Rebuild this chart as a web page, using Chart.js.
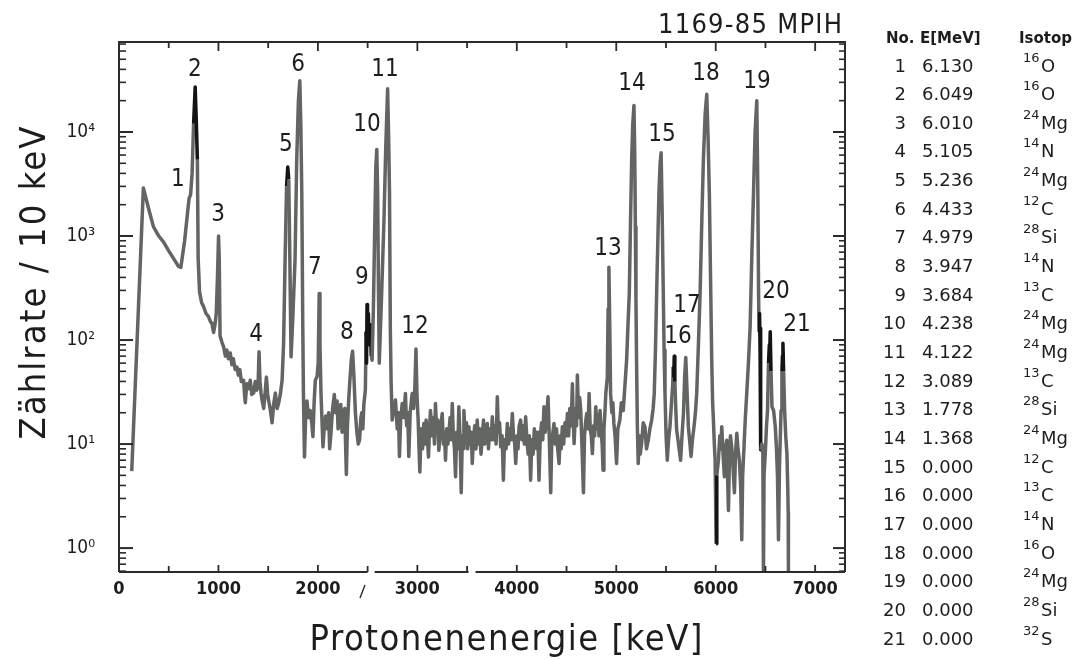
<!DOCTYPE html>
<html>
<head>
<meta charset="utf-8">
<title>Protonenspektrum 1169-85</title>
<script src="https://cdn.jsdelivr.net/npm/chart.js@4.4.1/dist/chart.umd.min.js"></script>
<style>
    html, body { margin: 0; padding: 0; background: #fff; }
    #spectrum { display: block; }
</style>
</head>
<body>
<canvas id="spectrum" width="1084" height="660"></canvas>
<script>
// spectrum as [energy keV, counts per 10 keV], split by energy range
const lowEnergy = [
    [128, 5.5], [245, 2900], [300, 1800], [346, 1230], [400, 1000], [447, 880], [500, 720],
    [548, 610], [598, 510], [622, 500], [660, 900], [690, 1700], [705, 2300], [720, 2500],
    [735, 4000], [750, 12000], [766, 27000], [776, 14000], [788, 5400], [796, 600], [810, 290],
    [830, 230], [850, 210], [875, 180], [900, 168], [920, 150], [934, 145], [951, 118],
    [965, 140], [978, 180], [990, 400], [1001, 1000], [1008, 600], [1016, 110], [1035, 95]
];

const midEnergy = [
    [1052, 86], [1070, 70], [1085, 80], [1100, 66], [1119, 75], [1135, 58], [1150, 66],
    [1168, 52], [1186, 55], [1200, 46], [1215, 52], [1230, 40], [1253, 41], [1262, 30],
    [1270, 25], [1285, 38], [1300, 34], [1320, 41], [1335, 30], [1354, 31], [1370, 40],
    [1385, 33], [1398, 36], [1408, 77], [1418, 40], [1428, 31], [1440, 26], [1455, 22],
    [1468, 30], [1482, 44], [1495, 30], [1505, 26], [1520, 22], [1539, 16], [1555, 24],
    [1572, 31], [1590, 22], [1606, 25], [1622, 30], [1640, 41], [1655, 93], [1670, 590],
    [1685, 3000], [1697, 4600], [1707, 3500], [1717, 700], [1730, 69], [1746, 150],
    [1770, 590], [1787, 5400], [1804, 20000], [1818, 31000], [1828, 12000], [1838, 2600],
    [1848, 134], [1855, 28], [1865, 7.5], [1878, 20], [1890, 26], [1906, 18], [1922, 21],
    [1938, 16], [1950, 11.8], [1962, 25], [1974, 41], [1992, 45], [2003, 60], [2013, 280],
    [2021, 90], [2031, 31], [2043, 15], [2051, 9.4], [2063, 14], [2078, 18.6], [2093, 14],
    [2108, 20], [2118, 9], [2131, 12.7], [2148, 22], [2165, 30], [2178, 20], [2193, 26],
    [2203, 14], [2216, 16], [2230, 24], [2243, 13], [2256, 20], [2270, 22], [2278, 10],
    [2286, 5.1], [2296, 14], [2308, 25], [2321, 40], [2336, 65], [2349, 78], [2362, 45],
    [2377, 20], [2393, 12.7], [2406, 10], [2419, 11], [2432, 18], [2441, 20], [2452, 14],
    [2462, 24], [2477, 33], [2485, 120], [2489, 60], [2494, 220], [2499, 110], [2507, 180],
    [2517, 90], [2527, 140], [2537, 70], [2545, 64], [2558, 200], [2570, 1000], [2582, 4500],
    [2592, 6800], [2601, 2500], [2609, 300], [2617, 60], [2642, 300], [2665, 1500],
    [2682, 7000], [2701, 26000], [2711, 9000], [2720, 2600], [2728, 134], [2736, 40],
    [2747, 17]
];

const plateau = [
    [2763, 22], [2780, 26.5], [2798, 14], [2810, 20], [2820, 7.6], [2833, 18], [2848, 24.6],
    [2863, 18], [2880, 30.7], [2892, 15], [2903, 20], [2914, 7.6], [2928, 20], [2948, 30.7],
    [2962, 22], [2975, 35], [2986, 82], [2996, 30], [3008, 17], [3017, 9], [3025, 5.4],
    [3038, 14], [3052, 9], [3065, 15.8], [3077, 10], [3088, 17], [3100, 11.8], [3112, 7.5],
    [3122, 14], [3132, 21], [3147, 12], [3162, 18], [3172, 10], [3182, 24.6], [3195, 13],
    [3205, 17], [3216, 8.7], [3227, 12], [3239, 16], [3250, 19.7], [3262, 10], [3272, 13],
    [3283, 7], [3295, 14], [3307, 10], [3317, 12.7], [3329, 18], [3340, 11], [3351, 24.6],
    [3362, 12], [3373, 9], [3384, 4.85], [3395, 13], [3407, 9], [3417, 22.8], [3429, 12],
    [3441, 3.4], [3452, 12], [3460, 9], [3468, 21], [3482, 11], [3494, 16], [3506, 9],
    [3518, 14.7], [3530, 10], [3542, 13], [3552, 6.5], [3564, 11], [3577, 15], [3589, 9],
    [3602, 17], [3615, 10], [3627, 14], [3640, 8], [3653, 11.8], [3665, 17], [3677, 10],
    [3690, 13], [3703, 15.8], [3715, 9], [3727, 14], [3742, 11], [3754, 18.3], [3767, 11],
    [3779, 15], [3792, 10], [3804, 28.5], [3815, 13], [3827, 16], [3838, 9.4], [3852, 12],
    [3865, 4.5], [3877, 11], [3892, 9], [3905, 15.8], [3917, 10], [3930, 14], [3942, 11],
    [3955, 19.7], [3967, 12], [3979, 10], [3989, 6.5], [4002, 12], [4012, 9], [4023, 14.7],
    [4038, 17], [4051, 11], [4064, 15], [4076, 10], [4089, 18.3], [4101, 11], [4114, 8],
    [4126, 12], [4139, 4.5], [4151, 11], [4164, 8], [4176, 14], [4189, 11.8], [4201, 9],
    [4211, 13], [4223, 4.5], [4236, 12], [4249, 16], [4261, 11], [4273, 22.8], [4286, 13],
    [4301, 19], [4314, 28.5], [4326, 12], [4341, 3.4], [4351, 10], [4363, 13], [4374, 15.8],
    [4386, 10], [4399, 14], [4411, 9], [4425, 6.5], [4436, 12], [4446, 9], [4458, 14.7],
    [4471, 10], [4484, 16], [4496, 12], [4509, 19.7], [4521, 12], [4533, 22], [4546, 15],
    [4559, 38], [4568, 16], [4576, 10.1], [4591, 22], [4601, 15], [4609, 46], [4621, 18],
    [4632, 28], [4643, 21], [4656, 9], [4670, 3.4], [4681, 12], [4691, 16], [4703, 19.7],
    [4716, 14], [4727, 30.7], [4738, 14], [4749, 12], [4760, 8.1], [4771, 15], [4783, 12],
    [4794, 22.8], [4806, 14], [4818, 19], [4826, 12], [4837, 21], [4848, 13], [4858, 10],
    [4867, 5.6], [4876, 14], [4886, 20], [4895, 30.7]
];

const highEnergy = [
    [4910, 44], [4918, 200], [4926, 500], [4934, 150], [4943, 30.7], [4956, 20], [4966, 25],
    [4976, 15.8], [4988, 12], [5003, 6.5], [5016, 14], [5036, 17], [5051, 25], [5070, 21],
    [5086, 35], [5104, 64], [5118, 140], [5131, 280], [5144, 1500], [5155, 5400],
    [5166, 12000], [5178, 18000], [5186, 6000], [5192, 1230], [5198, 250], [5204, 64],
    [5212, 15], [5221, 6.5], [5231, 12], [5241, 8], [5255, 10.1], [5271, 16], [5288, 14.7],
    [5304, 9], [5322, 10.9], [5338, 14], [5356, 17], [5371, 22], [5382, 30.7], [5394, 80],
    [5406, 280], [5418, 900], [5429, 2570], [5441, 5000], [5451, 6300], [5461, 1800],
    [5473, 280], [5481, 80], [5490, 30.7], [5501, 12], [5513, 7], [5526, 11], [5540, 14.7],
    [5549, 20], [5557, 26.5], [5566, 35], [5574, 55], [5578, 45], [5583, 70], [5589, 40],
    [5596, 25], [5607, 13.7], [5626, 10], [5647, 7], [5661, 12], [5676, 20], [5688, 45],
    [5699, 68], [5708, 40], [5725, 14.7], [5741, 10], [5752, 7.6], [5766, 11], [5782, 14.7],
    [5796, 20], [5809, 30.7], [5826, 90], [5843, 280], [5861, 1500], [5876, 5400],
    [5894, 15000], [5910, 23000], [5923, 9000], [5936, 2570], [5948, 400], [5960, 64],
    [5969, 25], [5977, 17], [5986, 10], [5994, 7], [6004, 1.1], [6011, 5], [6027, 7],
    [6041, 12], [6051, 9], [6061, 14.7], [6074, 8], [6087, 4.85], [6098, 9], [6111, 10.9],
    [6119, 5], [6128, 2.3], [6138, 7], [6148, 12], [6161, 9.4], [6174, 6], [6188, 3.4],
    [6199, 8], [6212, 12.7], [6224, 9], [6238, 7], [6251, 4], [6262, 1.2], [6271, 5],
    [6286, 10.1], [6298, 18], [6312, 30.7], [6329, 60], [6346, 134], [6364, 700],
    [6380, 2570], [6396, 10000], [6413, 20000], [6423, 3000], [6431, 280], [6436, 120],
    [6441, 180], [6446, 80], [6450, 130], [6454, 8.8], [6464, 10], [6474, 8.1], [6480, 0.5],
    [6486, 5], [6498, 8.1], [6511, 15], [6521, 21], [6531, 60], [6539, 90], [6543, 70],
    [6548, 120], [6556, 50], [6566, 22.8], [6582, 21], [6599, 14.7], [6611, 9], [6621, 5],
    [6631, 1.2], [6641, 6], [6657, 21], [6666, 50], [6671, 70], [6676, 93], [6683, 50],
    [6693, 21], [6704, 12], [6716, 8.1], [6724, 4], [6729, 2.2], [6731, 0.5]
];

// energy stretches printed in black ink on top of the grey trace
const darkStretches = [
    [740, 790], [1680, 1710], [2484, 2540], [5572, 5592], [6000, 6013],
    [6258, 6268], [6434, 6456], [6528, 6558], [6626, 6636], [6662, 6688]
];

// peak numbers and where they sit (keV, counts)
const peakNo = ['1', '2', '3', '4', '5', '6', '7', '8', '9', '10', '11',
                '12', '13', '14', '15', '16', '17', '18', '19', '20', '21'];
const peakLabelE = [593, 764, 996, 1378, 1679, 1800, 1970, 2292, 2443, 2493, 2675,
                    2976, 4917, 5158, 5460, 5621, 5712, 5902, 6415, 6606, 6817];
const peakLabelN = [3450, 39500, 1590, 112, 7500, 44000, 492, 117, 394, 11700, 39500,
                    133, 750, 29000, 9350, 107, 212, 36100, 30200, 290, 139];

// line table
const lineEnergy = ['6.130', '6.049', '6.010', '5.105', '5.236', '4.433', '4.979', '3.947',
                    '3.684', '4.238', '4.122', '3.089', '1.778', '1.368', '0.000', '0.000',
                    '0.000', '0.000', '0.000', '0.000', '0.000'];
const isotopeMass = ['16', '16', '24', '14', '24', '12', '28', '14', '13', '24', '24',
                     '13', '28', '24', '12', '13', '14', '16', '24', '28', '32'];
const isotopeElement = ['O', 'O', 'Mg', 'N', 'Mg', 'C', 'Si', 'N', 'C', 'Mg', 'Mg',
                        'C', 'Si', 'Mg', 'C', 'C', 'N', 'O', 'Mg', 'Si', 'S'];

const xTicks = [0, 1000, 2000, 3000, 4000, 5000, 6000, 7000];
const yTicks = [1, 10, 100, 1000, 10000];
const SUP = { 0: '\u2070', 1: '\u00b9', 2: '\u00b2', 3: '\u00b3', 4: '\u2074' };

const INK = '#1d1d1d';
const TRACE = '#626562';
const COND = '"DejaVu Sans Condensed", "DejaVu Sans", sans-serif';
const PLAIN = '"DejaVu Sans", sans-serif';

const spectrum = [].concat(lowEnergy, midEnergy, plateau, highEnergy)
    .map(([e, n]) => ({ x: e, y: n }));

function isDark(e0, e1) {
    return darkStretches.some(([a, b]) => e0 >= a && e1 <= b);
}

// text stretched by letter spacing to a given width, centred on cx
function spacedText(ctx, text, cx, y, width) {
    ctx.letterSpacing = '0px';
    const natural = ctx.measureText(text).width;
    const gap = (width - natural) / (text.length - 1);
    ctx.letterSpacing = gap.toFixed(2) + 'px';
    ctx.textAlign = 'left';
    ctx.fillText(text, cx - width / 2, y);
    ctx.letterSpacing = '0px';
}

function stroke(ctx, x0, y0, x1, y1) {
    ctx.beginPath();
    ctx.moveTo(x0, y0);
    ctx.lineTo(x1, y1);
    ctx.stroke();
}

const frameAndTicks = {
    id: 'frameAndTicks',
    afterDraw(chart) {
        const { ctx, chartArea: a, scales: { x, y } } = chart;
        ctx.save();
        ctx.strokeStyle = '#2b2b2b';
        ctx.lineCap = 'butt';

        // frame; the energy axis is broken twice
        ctx.lineWidth = 2;
        ctx.beginPath();
        ctx.moveTo(a.left, a.bottom);
        ctx.lineTo(a.left, a.top);
        ctx.lineTo(a.right, a.top);
        ctx.lineTo(a.right, a.bottom);
        [[0, 2500], [2570, 3515], [3585, 7300]].forEach(([e0, e1]) => {
            ctx.moveTo(x.getPixelForValue(e0), a.bottom);
            ctx.lineTo(x.getPixelForValue(e1), a.bottom);
        });
        ctx.stroke();
        ctx.lineWidth = 1.4;
        stroke(ctx, 360, 598, 365, 585);

        // inward ticks, every 500 keV
        ctx.lineWidth = 1.8;
        for (let e = 500; e < 7300; e += 500) {
            const px = x.getPixelForValue(e);
            const major = e % 1000 === 0;
            stroke(ctx, px, a.bottom, px, a.bottom - (major ? 7 : 6));
            stroke(ctx, px, a.top, px, a.top + (major ? 9 : 6));
        }

        // log ticks on both sides
        for (let d = -1; d <= 4; d++) {
            for (let m = 1; m <= 9; m++) {
                const v = m * Math.pow(10, d);
                if (v < y.min || v > y.max) continue;
                const py = y.getPixelForValue(v);
                ctx.lineWidth = m === 1 ? 2 : 1.6;
                stroke(ctx, a.left, py, a.left + (m === 1 ? 14 : 7), py);
                stroke(ctx, a.right, py, a.right - (m === 1 ? 12 : 6), py);
            }
        }
        ctx.restore();
    }
};

const annotations = {
    id: 'annotations',
    afterDraw(chart) {
        const { ctx, scales: { x, y } } = chart;
        ctx.save();
        ctx.fillStyle = INK;

        // peak numbers
        ctx.font = '24px ' + COND;
        ctx.textAlign = 'center';
        ctx.textBaseline = 'middle';
        peakNo.forEach((no, i) => {
            ctx.fillText(no, x.getPixelForValue(peakLabelE[i]), y.getPixelForValue(peakLabelN[i]));
        });

        // axis titles and run number
        ctx.textBaseline = 'alphabetic';
        ctx.font = '36px ' + COND;
        spacedText(ctx, 'Protonenenergie [keV]', 506, 650, 393);
        ctx.save();
        ctx.translate(45, 283);
        ctx.rotate(-Math.PI / 2);
        spacedText(ctx, 'Z\u00e4hlrate / 10 keV', 0, 0, 313);
        ctx.restore();
        ctx.font = '27px ' + COND;
        spacedText(ctx, '1169-85 MPIH', 750, 33, 184);

        // line table
        ctx.font = 'bold 15px ' + PLAIN;
        ctx.textAlign = 'left';
        ctx.fillText('No.', 886, 43);
        ctx.fillText('E[MeV]', 920, 43);
        ctx.fillText('Isotop', 1019, 43);
        lineEnergy.forEach((en, i) => {
            const base = 71.5 + i * 28.65;
            ctx.font = '18px ' + PLAIN;
            ctx.textAlign = 'right';
            ctx.fillText(peakNo[i], 906, base);
            ctx.textAlign = 'left';
            ctx.fillText(en, 922, base);
            ctx.font = '13px ' + PLAIN;
            ctx.fillText(isotopeMass[i], 1023, base - 10);
            ctx.font = '18px ' + PLAIN;
            ctx.fillText(isotopeElement[i], 1041, base);
        });
        ctx.restore();
    }
};

new Chart(document.getElementById('spectrum'), {
    type: 'line',
    data: {
        datasets: [{
            data: spectrum,
            borderColor: TRACE,
            borderWidth: 3.5,
            borderJoinStyle: 'round',
            pointRadius: 0,
            tension: 0,
            segment: {
                borderColor: c => isDark(c.p0.parsed.x, c.p1.parsed.x) ? '#141414' : undefined
            }
        }]
    },
    options: {
        responsive: false,
        animation: false,
        layout: { padding: { left: 0, top: 42, right: 239, bottom: 0 } },
        plugins: {
            legend: { display: false },
            tooltip: { enabled: false }
        },
        scales: {
            x: {
                type: 'linear',
                min: 0,
                max: 7300,
                grid: { display: false, drawTicks: false },
                border: { display: false },
                afterBuildTicks: s => { s.ticks = xTicks.map(v => ({ value: v })); },
                afterFit: s => { s.height = 88; },
                ticks: {
                    padding: 7,
                    color: INK,
                    font: { family: COND, size: 18, weight: 'bold' },
                    maxRotation: 0,
                    autoSkip: false,
                    callback: v => String(v)
                }
            },
            y: {
                type: 'logarithmic',
                min: 0.589,
                max: 73280,
                grid: { display: false, drawTicks: false },
                border: { display: false },
                afterBuildTicks: s => { s.ticks = yTicks.map(v => ({ value: v })); },
                afterFit: s => { s.width = 119; },
                ticks: {
                    padding: 24,
                    color: INK,
                    font: { family: COND, size: 19 },
                    autoSkip: false,
                    callback: v => '10' + SUP[Math.round(Math.log10(v))]
                }
            }
        }
    },
    plugins: [frameAndTicks, annotations]
});
</script>
</body>
</html>
